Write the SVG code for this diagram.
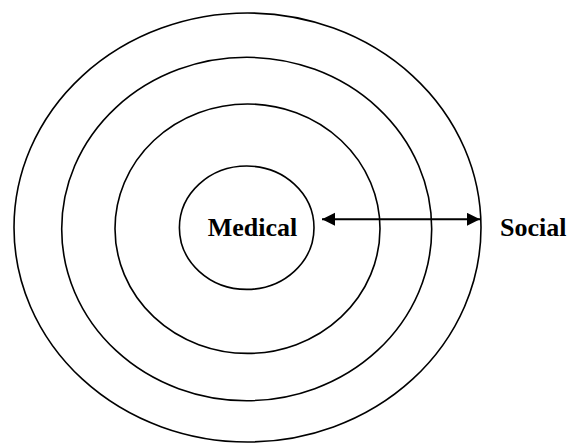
<svg xmlns="http://www.w3.org/2000/svg" width="571" height="444" viewBox="0 0 571 444">
<style>
.ring{fill:none;stroke:#000;stroke-width:1.6}
.lbl{font-family:"Liberation Serif","Times New Roman",serif;font-weight:bold;font-size:26px;fill:#000}
.conn{stroke:#000;stroke-width:2;fill:none}
</style>
<defs>
<marker id="ah" markerUnits="userSpaceOnUse" markerWidth="14" markerHeight="14" refX="13" refY="6.5" orient="auto-start-reverse">
<path d="M0,0 L13,6.5 L0,13 Z" fill="#000"/>
</marker>
</defs>
<rect width="571" height="444" fill="#fff"/>
<g id="ring-outer"><ellipse class="ring" cx="247.5" cy="227.5" rx="233.5" ry="214.5"/></g>
<g id="ring-2"><ellipse class="ring" cx="246.7" cy="229" rx="185" ry="171.7"/></g>
<g id="ring-3"><ellipse class="ring" cx="247.5" cy="228.7" rx="132.5" ry="124.7"/></g>
<g id="medical"><ellipse class="ring" cx="246.7" cy="227.7" rx="67.3" ry="61.7"/>
<text class="lbl" x="252.5" y="236" text-anchor="middle">Medical</text></g>
<g id="social"><text class="lbl" x="500" y="236">Social</text></g>
<g id="connectors"><line class="conn" x1="322" y1="219.3" x2="480" y2="219.3" marker-start="url(#ah)" marker-end="url(#ah)"/></g>
</svg>
